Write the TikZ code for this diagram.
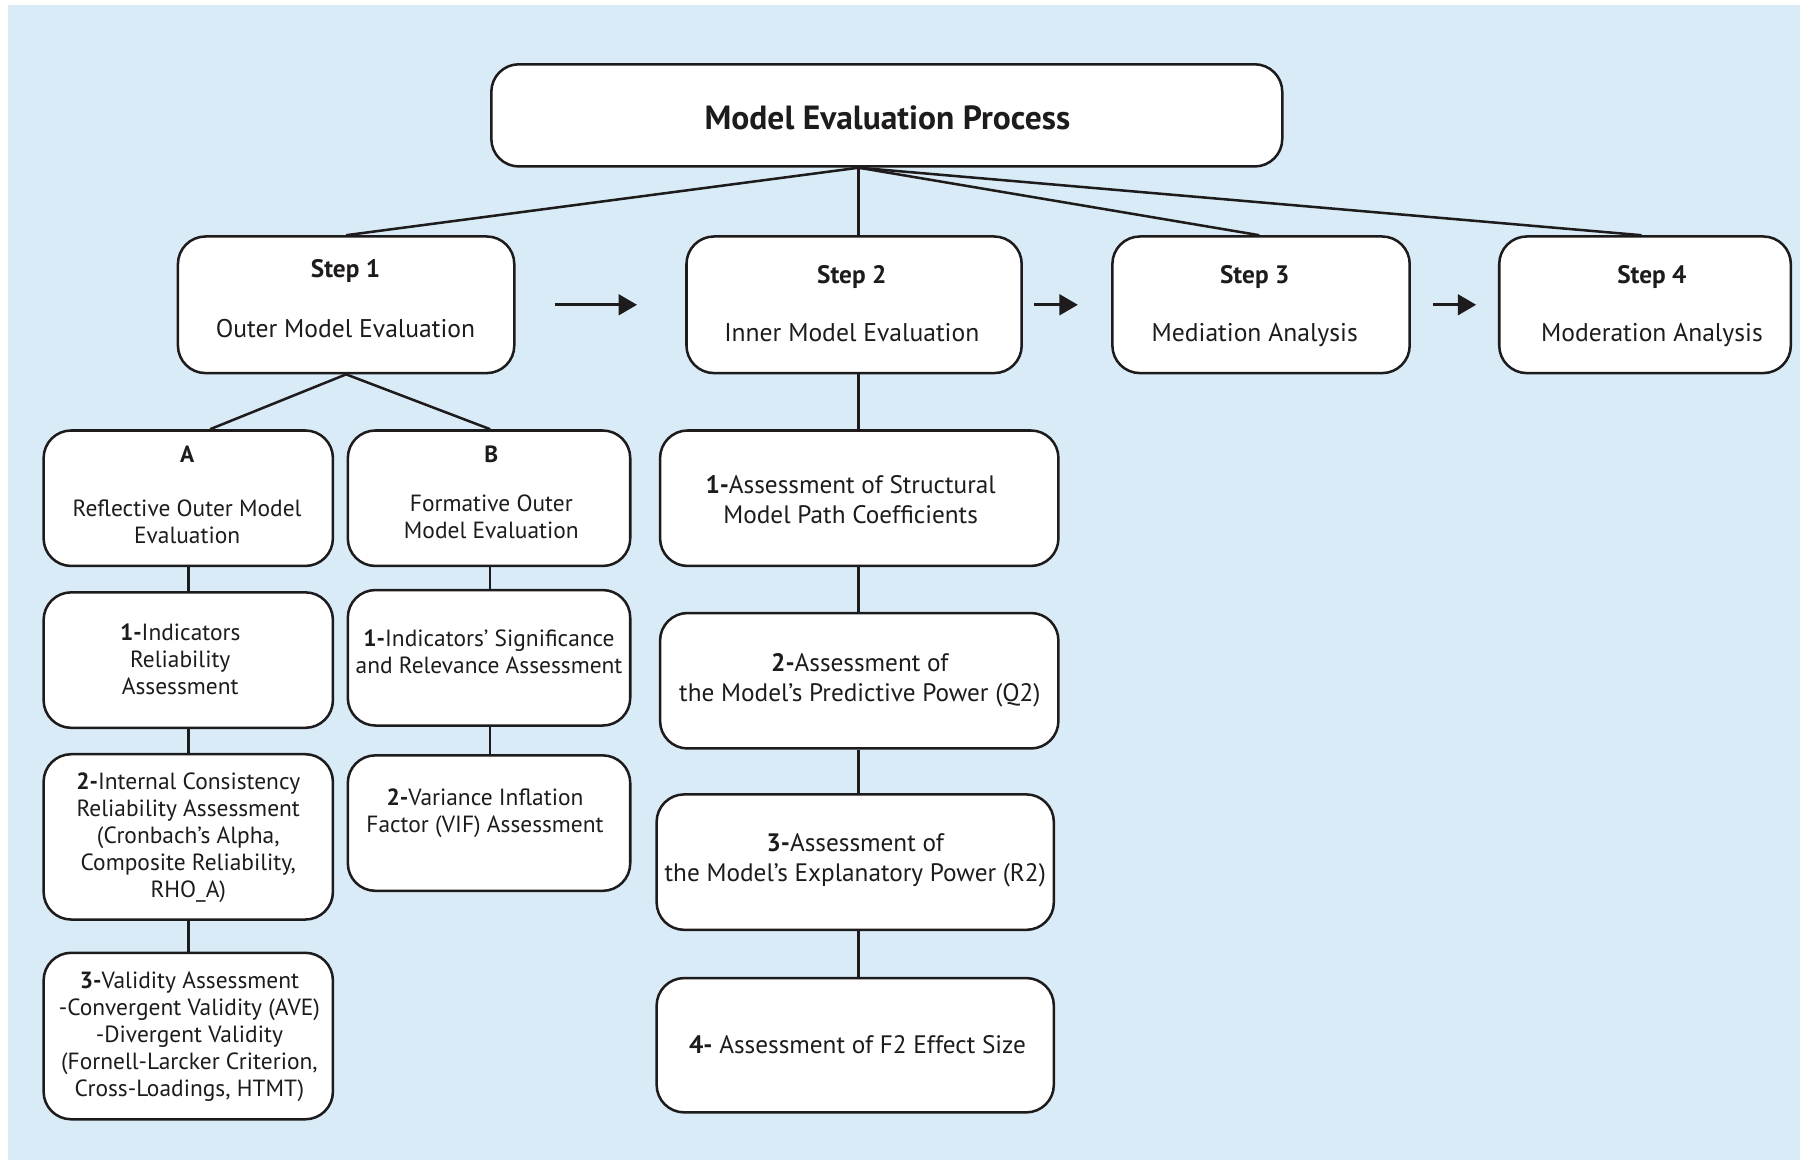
\documentclass[tikz,border=0pt]{standalone}
\usepackage{fontspec}
\setmainfont{PT Sans}
\usetikzlibrary{arrows.meta,calc}
\definecolor{bgblue}{RGB}{218,235,248}
\definecolor{ink}{RGB}{30,27,28}
\begin{document}
\begin{tikzpicture}[x=0.5pt,y=-0.5pt,
  box/.style={draw=ink,line width=1.1pt,fill=white,rounded corners=12pt,inner sep=0pt},
  txt/.style={align=center,text=ink,inner sep=0pt,font=\fontsize{10.2}{11.75}\selectfont},
  steptx/.style={align=center,text=ink,inner sep=0pt,font=\fontsize{11.15}{11.75}\selectfont},
  wide/.style={align=center,text=ink,inner sep=0pt,font=\fontsize{11}{13}\selectfont},
  link/.style={draw=ink,line width=1.1pt},
  arr/.style={draw=ink,line width=1.2pt,-{Triangle[length=8pt,width=9pt]}}]

% canvas and background panel
\useasboundingbox (0,0) rectangle (1568,1012);
\fill[bgblue] (7,4.4) rectangle (1568,1010.5);

% top box and the four steps
\node[box,minimum width=344.5pt,minimum height=44.5pt] (top) at (772.5,100.5) {};
\node[box,minimum width=146.5pt,minimum height=59.5pt] (st1) at (301.5,265.5) {};
\node[box,minimum width=146pt,minimum height=59.5pt] (st2) at (744,265.5) {};
\node[box,minimum width=129.5pt,minimum height=59.5pt] (st3) at (1098.5,265.5) {};
\node[box,minimum width=127pt,minimum height=59.5pt] (st4) at (1433,265.5) {};

% outer model branches
\node[box,minimum width=126pt,minimum height=59pt] (ra) at (164,434) {};
\node[box,minimum width=123pt,minimum height=59pt] (fb) at (426,434) {};
\node[box,minimum width=126pt,minimum height=59pt] (ra1) at (164,575) {};
\node[box,minimum width=126pt,minimum height=72pt] (ra2) at (164,729) {};
\node[box,minimum width=126pt,minimum height=72.5pt] (ra3) at (164,902.5) {};
\node[box,minimum width=123pt,minimum height=59pt] (fb1) at (426,573) {};
\node[box,minimum width=123pt,minimum height=59pt] (fb2) at (426,717) {};

% inner model assessments
\node[box,minimum width=173.5pt,minimum height=59pt] (in1) at (748.5,434) {};
\node[box,minimum width=173.5pt,minimum height=59pt] (in2) at (748.5,593) {};
\node[box,minimum width=173pt,minimum height=59pt] (in3) at (745,751) {};
\node[box,minimum width=173pt,minimum height=58.5pt] (in4) at (745,910.5) {};

% texts
\node[text=ink,inner sep=0pt,font=\fontsize{14.6}{16}\selectfont\bfseries] (toptx) at (773,103) {Model Evaluation Process};
\node[steptx] (st1tx) at (301,260) {{\fontsize{11}{11.75}\selectfont\textbf{Step 1}}\\[14.25pt]Outer Model Evaluation};
\node[steptx] (st2tx) at (742,264.5) {{\fontsize{11}{11.75}\selectfont\textbf{Step 2}}\\[13.75pt]Inner Model Evaluation};
\node[steptx] (st3tx) at (1093,266.5) {{\fontsize{11}{11.75}\selectfont\textbf{Step 3}}\\[13.75pt]Mediation Analysis};
\node[steptx] (st4tx) at (1439,266.5) {{\fontsize{11}{11.75}\selectfont\textbf{Step 4}}\\[13.75pt]Moderation Analysis};

\node[txt] (ratx) at (163,431) {\textbf{A}\\[11.75pt]Reflective Outer Model\\Evaluation};
\node[txt] (fbtx) at (428,429) {\textbf{B}\\[9.75pt]Formative Outer\\Model Evaluation};
\node[txt] (ra1tx) at (157,574.5) {\textbf{1-}Indicators\\Reliability\\Assessment};
\node[txt] (ra2tx) at (164,730) {\textbf{2-}Internal Consistency\\Reliability Assessment\\(Cronbach’s Alpha,\\Composite Reliability,\\RHO\_A)};
\node[txt] (ra3tx) at (165,903.5) {\textbf{3-}Validity Assessment\\-Convergent Validity (AVE)\\-Divergent Validity\\(Fornell-Larcker Criterion,\\Cross-Loadings, HTMT)};
\node[txt] (fb1tx) at (426,568) {\textbf{1-}Indicators’ Significance\\and Relevance Assessment};
\node[txt] (fb2tx) at (422.5,708.5) {\textbf{2-}Variance Inflation\\Factor (VIF) Assessment};

\node[wide] (in1tx) at (741,435) {\textbf{1-}Assessment of Structural\\Model Path Coefficients};
\node[wide] (in2tx) at (749,592.5) {\textbf{2-}Assessment of\\the Model’s Predictive Power (Q2)};
\node[wide] (in3tx) at (745,749.5) {\textbf{3-}Assessment of\\the Model’s Explanatory Power (R2)};
\node[wide] (in4tx) at (747,910) {\textbf{4-} Assessment of F2 Effect Size};

% connectors from the top box
\coordinate (hub) at ($(top.south)+(-24.5,0)$);
\draw[link] (hub) -- (st1.north);
\draw[link] (hub) -- (st2.north -| hub);
\draw[link] (hub) -- ($(st3.north)+(-1.5,0)$);
\draw[link] (hub) -- ($(st4.north)+(-3,0)$);

% step sequence arrows
\draw[arr] ([xshift=17pt]st1.east) -- ([xshift=-21pt]st2.west);
\draw[arr] ([xshift=5pt]st2.east) -- ([xshift=-14.5pt]st3.west);
\draw[arr] ([xshift=9.5pt]st3.east) -- ([xshift=-9.5pt]st4.west);

% outer model tree
\draw[link] (st1.south) -- ($(ra.north)+(19,0)$);
\draw[link] (st1.south) -- ($(fb.north)+(1,0)$);
\draw[link] (ra.south) -- (ra1.north);
\draw[link] (ra1.south) -- (ra2.north);
\draw[link] (ra2.south) -- (ra3.north);
\draw[link] ($(fb.south)+(1,0)$) -- ($(fb1.north)+(1,0)$);
\draw[link] ($(fb1.south)+(1,0)$) -- ($(fb2.north)+(1,0)$);

% inner model chain
\draw[link] (st2.south -| hub) -- (in1.north -| hub);
\draw[link] (in1.south -| hub) -- (in2.north -| hub);
\draw[link] (in2.south -| hub) -- (in3.north -| hub);
\draw[link] (in3.south -| hub) -- (in4.north -| hub);
\end{tikzpicture}
\end{document}
